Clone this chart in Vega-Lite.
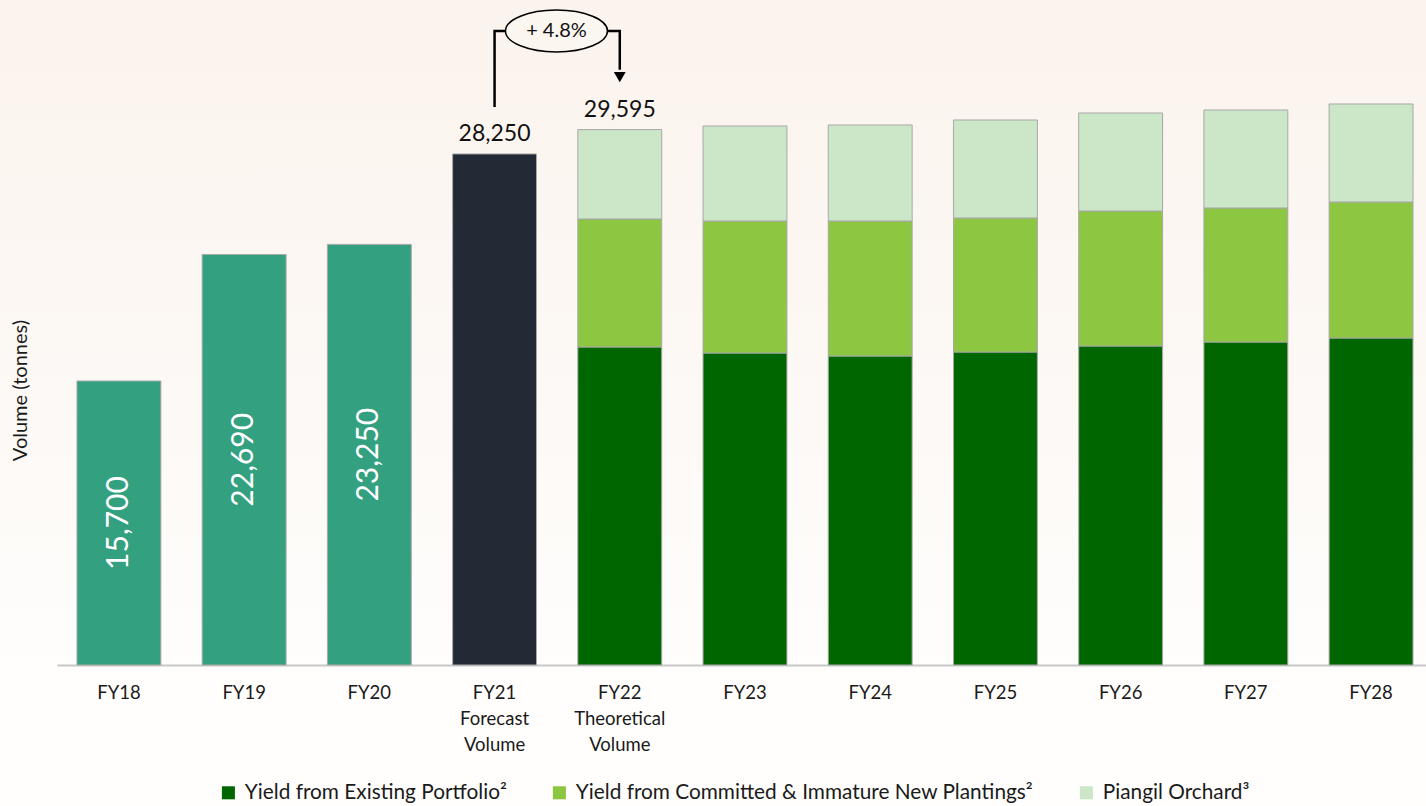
{
  "$schema": "https://vega.github.io/schema/vega-lite/v6.json",
  "width": 1426,
  "height": 806,
  "autosize": {"type": "none"},
  "padding": 0,
  "background": "#ffffff",
  "config": {
    "view": {"stroke": null, "fill": {"gradient": "linear", "x1": 0, "y1": 0, "x2": 0, "y2": 1, "stops": [{"offset": 0, "color": "#FBF3ED"}, {"offset": 0.6, "color": "#FDFAF7"}, {"offset": 0.85, "color": "#FFFEFD"}]}},
    "font": "Lato",
    "text": {"font": "Lato"}
  },
  "datasets": {
    "bars": [
      {"year": "FY18", "segment": "Actual", "value": 15700, "ord": 1},
      {"year": "FY19", "segment": "Actual", "value": 22690, "ord": 1},
      {"year": "FY20", "segment": "Actual", "value": 23250, "ord": 1},
      {"year": "FY21", "segment": "Forecast", "value": 28250, "ord": 1},
      {"year": "FY22", "segment": "Yield from Existing Portfolio²", "value": 17580, "ord": 1},
      {"year": "FY22", "segment": "Yield from Committed & Immature New Plantings²", "value": 7075, "ord": 2},
      {"year": "FY22", "segment": "Piangil Orchard³", "value": 4940, "ord": 3},
      {"year": "FY23", "segment": "Yield from Existing Portfolio²", "value": 17247, "ord": 1},
      {"year": "FY23", "segment": "Yield from Committed & Immature New Plantings²", "value": 7297, "ord": 2},
      {"year": "FY23", "segment": "Piangil Orchard³", "value": 5251, "ord": 3},
      {"year": "FY24", "segment": "Yield from Existing Portfolio²", "value": 17081, "ord": 1},
      {"year": "FY24", "segment": "Yield from Committed & Immature New Plantings²", "value": 7463, "ord": 2},
      {"year": "FY24", "segment": "Piangil Orchard³", "value": 5307, "ord": 3},
      {"year": "FY25", "segment": "Yield from Existing Portfolio²", "value": 17302, "ord": 1},
      {"year": "FY25", "segment": "Yield from Committed & Immature New Plantings²", "value": 7408, "ord": 2},
      {"year": "FY25", "segment": "Piangil Orchard³", "value": 5417, "ord": 3},
      {"year": "FY26", "segment": "Yield from Existing Portfolio²", "value": 17634, "ord": 1},
      {"year": "FY26", "segment": "Yield from Committed & Immature New Plantings²", "value": 7463, "ord": 2},
      {"year": "FY26", "segment": "Piangil Orchard³", "value": 5417, "ord": 3},
      {"year": "FY27", "segment": "Yield from Existing Portfolio²", "value": 17855, "ord": 1},
      {"year": "FY27", "segment": "Yield from Committed & Immature New Plantings²", "value": 7408, "ord": 2},
      {"year": "FY27", "segment": "Piangil Orchard³", "value": 5417, "ord": 3},
      {"year": "FY28", "segment": "Yield from Existing Portfolio²", "value": 18076, "ord": 1},
      {"year": "FY28", "segment": "Yield from Committed & Immature New Plantings²", "value": 7518, "ord": 2},
      {"year": "FY28", "segment": "Piangil Orchard³", "value": 5418, "ord": 3}
    ],
    "totals": [
      {"year": "FY21", "total": 28250},
      {"year": "FY22", "total": 29595}
    ],
    "bracket": [
      {"year": "FY21", "y": 30846, "step": 1},
      {"year": "FY21", "y": 35047, "step": 2},
      {"year": "FY22", "y": 35047, "step": 3},
      {"year": "FY22", "y": 32900, "step": 4}
    ],
    "arrow": [{"year": "FY22", "y": 32500}],
    "badge": [{"year": "FY21", "y": 35047, "label": "+ 4.8%"}]
  },
  "layer": [
    {
      "data": {"name": "bars"},
      "mark": {"type": "bar", "stroke": "#a8a8a8", "strokeWidth": 1},
      "encoding": {
        "x": {
          "field": "year", "type": "nominal",
          "scale": {"domain": ["FY18","FY19","FY20","FY21","FY22","FY23","FY24","FY25","FY26","FY27","FY28"], "range": [57, 1426], "paddingInner": 0.33, "paddingOuter": 0.1316, "align": 0.606},
          "axis": {
            "orient": "bottom", "offset": -141, "title": null, "ticks": false,
            "domainColor": "#c8c8c8", "domainWidth": 2, "labelAngle": 0,
            "labelFont": "Lato", "labelFontSize": 18.5, "labelColor": "#1a1a1a",
            "labelPadding": 18, "labelLineHeight": 26, "labelBaseline": "top",
            "labelExpr": "datum.value == 'FY21' ? ['FY21','Forecast','Volume'] : datum.value == 'FY22' ? ['FY22','Theoretical','Volume'] : datum.value"
          }
        },
        "y": {
          "field": "value", "type": "quantitative", "stack": "zero",
          "scale": {"domain": [0, 36760], "range": [665, 0], "nice": false, "zero": true},
          "axis": {
            "orient": "left", "title": "Volume (tonnes)", "labels": false, "ticks": false, "domain": false, "grid": false,
            "titleX": 20, "titleY": 390, "titleAngle": -90, "titleAlign": "center", "titleBaseline": "middle",
            "titleFont": "Lato", "titleFontSize": 20, "titleFontWeight": "normal", "titleColor": "#1a1a1a"
          }
        },
        "color": {
          "field": "segment", "type": "nominal",
          "scale": {
            "domain": ["Actual", "Forecast", "Yield from Existing Portfolio²", "Yield from Committed & Immature New Plantings²", "Piangil Orchard³"],
            "range": ["#33A07F", "#232A36", "#006600", "#8DC641", "#CCE6C8"]
          },
          "legend": {
            "values": ["Yield from Existing Portfolio²", "Yield from Committed & Immature New Plantings²", "Piangil Orchard³"],
            "orient": "none", "direction": "horizontal", "legendX": 218, "legendY": 782,
            "title": null, "symbolType": "square", "symbolSize": 170, "symbolStrokeWidth": 0,
            "labelFont": "Lato", "labelFontSize": 20.8, "labelColor": "#1a1a1a", "labelOffset": 6,
            "columnPadding": 42, "labelLimit": 600, "padding": 0
          }
        },
        "order": {"field": "ord", "type": "quantitative"}
      }
    },
    {
      "data": {"name": "bars"},
      "transform": [
        {"filter": "datum.segment == 'Actual'"},
        {"calculate": "datum.value / 2", "as": "mid"}
      ],
      "mark": {"type": "text", "angle": 270, "color": "#ffffff", "fontSize": 30, "font": "Lato", "align": "center", "baseline": "middle"},
      "encoding": {
        "x": {"field": "year", "type": "nominal"},
        "y": {"field": "mid", "type": "quantitative"},
        "text": {"field": "value", "type": "quantitative", "format": ","}
      }
    },
    {
      "data": {"name": "totals"},
      "mark": {"type": "text", "color": "#111111", "fontSize": 23, "font": "Lato", "align": "center", "baseline": "alphabetic", "dy": -13},
      "encoding": {
        "x": {"field": "year", "type": "nominal"},
        "y": {"field": "total", "type": "quantitative"},
        "text": {"field": "total", "type": "quantitative", "format": ","}
      }
    },
    {
      "data": {"name": "bracket"},
      "mark": {"type": "line", "color": "#000000", "strokeWidth": 2.5, "interpolate": "linear"},
      "encoding": {
        "x": {"field": "year", "type": "nominal"},
        "y": {"field": "y", "type": "quantitative"},
        "order": {"field": "step", "type": "quantitative"}
      }
    },
    {
      "data": {"name": "arrow"},
      "mark": {"type": "point", "shape": "triangle-down", "filled": true, "color": "#000000", "size": 140, "opacity": 1},
      "encoding": {
        "x": {"field": "year", "type": "nominal"},
        "y": {"field": "y", "type": "quantitative"}
      }
    },
    {
      "data": {"name": "badge"},
      "mark": {"type": "point", "shape": "M -1 0 A 1 0.41 0 1 0 1 0 A 1 0.41 0 1 0 -1 0 Z", "filled": false, "fill": "#FCF6F1", "fillOpacity": 1, "stroke": "#000000", "strokeWidth": 1.5, "size": 10404, "opacity": 1},
      "encoding": {
        "x": {"field": "year", "type": "nominal", "bandPosition": 1.238},
        "y": {"field": "y", "type": "quantitative"}
      }
    },
    {
      "data": {"name": "badge"},
      "mark": {"type": "text", "color": "#111111", "fontSize": 20, "font": "Lato", "align": "center", "baseline": "middle"},
      "encoding": {
        "x": {"field": "year", "type": "nominal", "bandPosition": 1.238},
        "y": {"field": "y", "type": "quantitative"},
        "text": {"field": "label", "type": "nominal"}
      }
    }
  ]
}
